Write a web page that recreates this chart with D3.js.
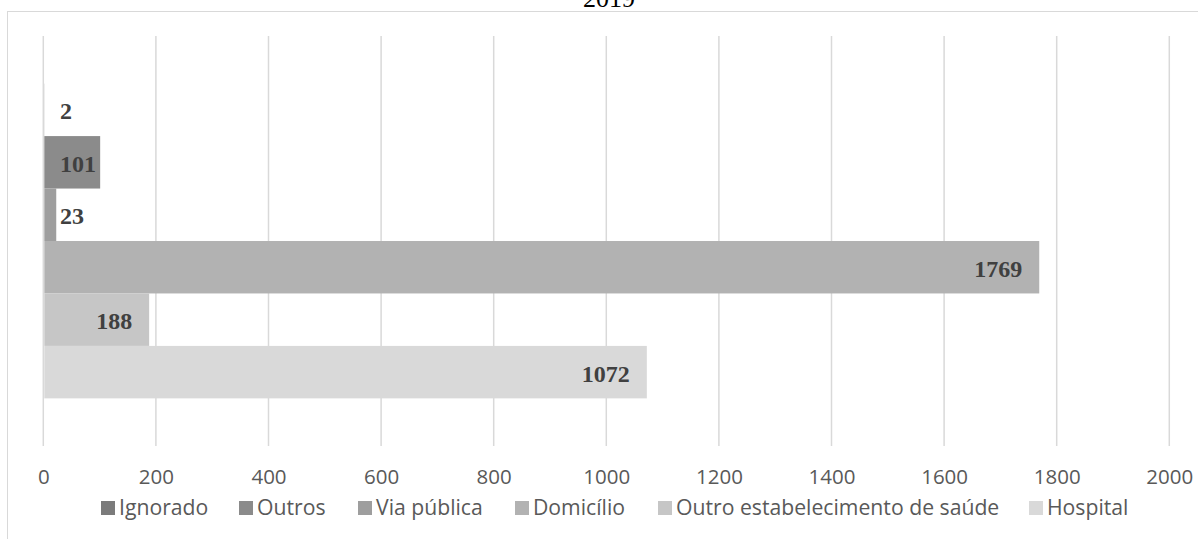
<!DOCTYPE html>
<html>
<head>
<meta charset="utf-8">
<script src="https://cdn.jsdelivr.net/npm/d3@7"></script>
<style>
  html, body { margin: 0; padding: 0; background: #fff; }
  svg { display: block; }
</style>
</head>
<body>
<svg id="chart" width="1198" height="539"></svg>
<script>
const title = "2019";
const series = ["Ignorado", "Outros", "Via pública", "Domicílio", "Outro estabelecimento de saúde", "Hospital"];
const values = [2, 101, 23, 1769, 188, 1072];
const colors = ["#7b7b7b", "#8b8b8b", "#9e9e9e", "#b2b2b2", "#c6c6c6", "#d9d9d9"];
const ticks = [0, 200, 400, 600, 800, 1000, 1200, 1400, 1600, 1800, 2000];
const legendX = [101, 239, 358, 515, 658, 1029];

const svg = d3.select("#chart");
const plot = { left: 43.3, right: 1169.3, top: 36, bottom: 446 };

// chart border
svg.append("rect")
  .attr("x", 7.5).attr("y", 11.5)
  .attr("width", 1300).attr("height", 600)
  .attr("fill", "none").attr("stroke", "#d9d9d9").attr("stroke-width", 1);

// title (cut off at the top edge, as in the reference)
svg.append("text")
  .attr("x", 609).attr("y", 7)
  .attr("text-anchor", "middle")
  .attr("font-family", "Liberation Serif, Times New Roman, serif")
  .attr("font-size", 26)
  .attr("fill", "#000")
  .text(title);

const x = d3.scaleLinear().domain([0, 2000]).range([plot.left, plot.right]);
const y = d3.scaleBand().domain(series).range([plot.top, plot.bottom]).paddingInner(0).paddingOuter(0.908);

// gridlines
svg.append("g").selectAll("line").data(ticks).join("line")
  .attr("x1", d => x(d)).attr("x2", d => x(d))
  .attr("y1", plot.top).attr("y2", plot.bottom)
  .attr("stroke", "#d9d9d9").attr("stroke-width", 1.5);

// axis labels
const axis = d3.axisBottom(x).tickValues(ticks).tickSize(0).tickPadding(0).tickFormat(d3.format("d"));
const ag = svg.append("g").attr("transform", `translate(0,${plot.bottom})`).call(axis);
ag.select(".domain").remove();
ag.selectAll("text")
  .attr("y", 31).attr("dy", "0.35em")
  .attr("font-family", "Open Sans, sans-serif")
  .attr("font-size", 20.5)
  .attr("fill", "#595959");

// bars
svg.append("g").selectAll("rect").data(series).join("rect")
  .attr("x", x(0) + 1)
  .attr("y", d => y(d))
  .attr("width", (d, i) => Math.max(0, x(values[i]) - x(0) - 1))
  .attr("height", y.bandwidth())
  .attr("fill", (d, i) => colors[i]);

// data labels
const lab = svg.append("g").selectAll("text").data(series).join("text")
  .attr("y", d => y(d) + y.bandwidth() / 2 + 1)
  .attr("dy", "0.35em")
  .attr("font-family", "Liberation Serif, Times New Roman, serif")
  .attr("font-weight", "bold")
  .attr("font-size", 24)
  .attr("fill", "#404040")
  .text((d, i) => values[i]);
lab.each(function(d, i) {
  const w = this.getComputedTextLength();
  const xs = Math.max(x(0) + 16.7, x(values[i]) - 17 - w);
  d3.select(this).attr("x", xs);
});

// legend
const lg = svg.append("g");
series.forEach((s, i) => {
  lg.append("rect")
    .attr("x", legendX[i]).attr("y", 501)
    .attr("width", 14).attr("height", 14)
    .attr("fill", colors[i]);
  lg.append("text")
    .attr("x", legendX[i] + 18).attr("y", 508).attr("dy", "0.35em")
    .attr("font-family", "Open Sans, sans-serif")
    .attr("font-size", 21.2)
    .attr("fill", "#595959")
    .text(s);
});
</script>
</body>
</html>
